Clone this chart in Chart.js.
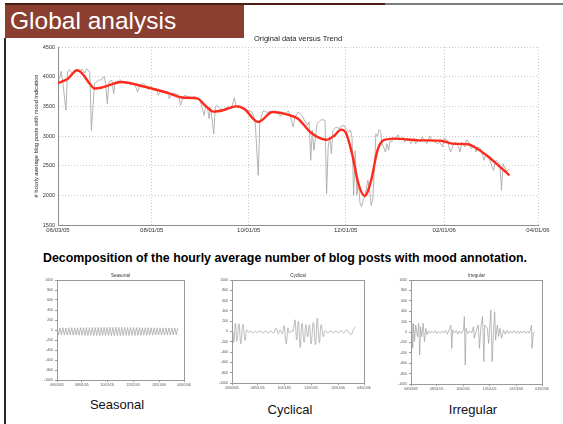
<!DOCTYPE html>
<html><head><meta charset="utf-8">
<script src="https://cdn.jsdelivr.net/npm/chart.js@4.4.1/dist/chart.umd.min.js"></script>
<style>
html,body{margin:0;padding:0;width:563px;height:424px;overflow:hidden;background:#fff;font-family:"Liberation Sans",Arial,Helvetica,sans-serif;}
.abs{position:absolute;}
canvas{position:absolute;}
#topline1{left:5px;top:3px;width:380px;height:2px;background:#4a1d14;}
#topline2{left:385px;top:3px;width:178px;height:2px;background:#7c7c7c;}
#titlebox{left:5px;top:5px;width:239px;height:33px;background:#8b3f30;}
#title{left:10px;top:7px;color:#fff;font-size:24.5px;line-height:28px;white-space:nowrap;}
#leftline{left:4px;top:38px;width:2px;height:386px;background:#2a2a2a;}
#heading{left:0;width:570px;top:251px;text-align:center;font-weight:bold;font-size:12.4px;line-height:14px;color:#000;white-space:nowrap;}
.lab{font-size:13px;line-height:15px;color:#111;text-align:center;width:120px;white-space:nowrap;}
</style>
</head>
<body>
<div id="topline1" class="abs"></div>
<div id="topline2" class="abs"></div>
<div id="titlebox" class="abs"></div>
<div id="title" class="abs">Global analysis</div>
<div id="leftline" class="abs"></div>
<div id="heading" class="abs">Decomposition of the hourly average number of blog posts with mood annotation.</div>
<div class="abs lab" style="left:57px;top:397px;">Seasonal</div>
<div class="abs lab" style="left:230px;top:402px;">Cyclical</div>
<div class="abs lab" style="left:413px;top:402px;">Irregular</div>
<canvas id="main"></canvas>
<canvas id="seasonal"></canvas>
<canvas id="cyclical"></canvas>
<canvas id="irregular"></canvas>
<script>
// ---- tick labels (days since 06/03/05) ----
const tickDays = [0, 59, 120, 181, 243, 302];
const dateLabels = ['06/03/05', '08/01/05', '10/01/05', '12/01/05', '02/01/06', '04/01/06'];

// ---- Original data (gray) ----
const rawDays = [
  0,1,2,3,5,6,7,9,11,12,
  14,15,17,18,20,21,23,24,26,27,
  29,30,31,32,34,35,36,38,39,41,
  43,44,46,47,49,50,52,54,55,57,
  58,60,62,63,65,67,69,70,72,74,
  76,77,79,80,82,84,86,87,89,90,
  92,93,94,95,96,98,99,100,102,104,
  105,107,109,111,112,114,116,118,120,122,
  124,126,127,129,130,132,133,135,137,138,
  140,141,143,145,146,148,149,151,152,154,
  155,157,158,159,160,161,162,163,165,166,
  168,169,170,171,172,173,175,177,178,180,
  181,183,184,185,186,187,188,189,190,191,
  192,193,195,196,197,198,199,200,201,202,
  203,204,206,207,208,209,210,211,212,214,
  215,217,218,220,221,222,224,225,227,228,
  229,231,232,234,235,237,239,240,242,243,
  245,246,247,249,250,252,253,254,256,257,
  259,260,262,263,264,266,268,269,271,272,
  274,275,276,278,279,280,281,282,284
];
const rawValues = [
  3994,3966,4090,3910,3433,4079,4118,4051,4107,4118,
  4096,4129,4062,4135,4079,3096,3882,3910,3949,3938,
  4006,3882,3545,3910,3938,3713,3910,3927,3949,3904,
  3882,3910,3854,3893,3826,3742,3871,3882,3854,3781,
  3826,3770,3798,3685,3770,3758,3742,3629,3725,3713,
  3685,3517,3669,3685,3657,3646,3669,3657,3601,3545,
  3348,3517,3489,3292,3489,3035,3489,3517,3461,3433,
  3461,3489,3461,3646,3489,3517,3461,3433,3433,3404,
  3264,2337,3236,3421,3421,3388,3421,3404,3421,3388,
  3331,3404,3380,3421,3348,3152,3309,3404,3388,3320,
  3264,3180,3236,2590,3096,2758,2983,3208,3264,3275,
  3264,2028,2815,2983,2702,3096,3152,3124,3163,3180,
  3130,3067,3100,2983,2000,2750,2000,2250,1870,1808,
  1916,1980,2253,2112,1831,1916,2400,3039,2990,3107,
  3080,2871,2730,2870,2758,2927,2900,2983,2930,3022,
  2930,2983,2899,2960,2927,2871,2960,2871,2927,2900,
  2983,2927,2871,2994,2927,2900,2871,2900,2815,2960,
  2927,2815,2730,2871,2900,2815,2730,2900,2815,2938,
  2871,2786,2843,2730,2815,2786,2590,2674,2646,2562,
  2421,2562,2590,2534,2084,2534,2478,2410,2432
];

// ---- Trend (red) ----
const trendDays = [0,6,12,15,20,23,28,40,50,59,70,78,88,92,98,104,112,117,126,135,146,151,159,169,174,178,181,185,189,193,197,201,205,212,227,241,248,258,262,271,277,284];
const trendValues = [3893,3960,4107,4060,3880,3800,3820,3910,3860,3800,3720,3650,3630,3530,3410,3435,3500,3461,3236,3404,3348,3292,3060,2938,3010,3107,3060,2702,2197,1989,2250,2758,2930,2955,2927,2920,2871,2860,2815,2646,2506,2337];

// ---- Seasonal component ----
const seasonalDays = [
  0,3.5,7,10.5,14,17.5,21,24.5,28,31.5,
  35,38.5,42,45.5,49,52.5,56,59.5,63,66.5,
  70,73.5,77,80.5,84,87.5,91,94.5,98,101.5,
  105,108.5,112,115.5,119,122.5,126,129.5,133,136.5,
  140,143.5,147,150.5,154,157.5,161,164.5,168,171.5,
  175,178.5,182,185.5,189,192.5,196,199.5,203,206.5,
  210,213.5,217,220.5,224,227.5,231,234.5,238,241.5,
  245,248.5,252,255.5,259,262.5,266,269.5,273,276.5,
  280,283.5,287
];
const seasonalValues = [
  40,-95,42,-100,45,-98,40,-102,43,-100,
  46,-104,42,-100,44,-103,47,-105,45,-106,
  48,-108,46,-105,50,-110,48,-108,52,-112,
  50,-110,53,-113,51,-112,54,-115,52,-113,
  55,-114,53,-112,52,-113,50,-110,52,-112,
  49,-108,50,-110,48,-106,47,-107,45,-104,
  46,-105,44,-102,45,-103,43,-100,44,-101,
  42,-98,43,-100,41,-97,42,-99,40,-96,
  41,-97,40
];

// ---- Cyclical component ----
const cycDays = [0,2,4,8,11,16,20,25,30,34,39,43,48,53,58,65,71,77,83,89,95,101,106,110,115,119,124,128,131,136,140,144,148,152,156,160,165,169,173,177,181,186,191,195,200,204,209,213,219,225,231,238,244,250,256,262,268,273,277,282];
const cycValues = [0,0,-210,160,-190,150,-240,140,-175,30,-20,10,-30,5,-20,10,-30,10,-25,5,-30,65,-45,30,-45,110,-240,65,-30,20,0,225,-160,195,-310,160,-210,130,-100,130,-240,175,-260,260,-225,130,-100,20,-25,15,-20,5,-20,20,-30,30,-30,-60,30,85];

// ---- Irregular component ----
const irrDays = [0,2,4,6,8,11,15,18,20,22,25,28,31,34,37,40,44,48,52,56,60,64,68,72,76,80,84,88,92,94,96,100,104,108,112,116,121,123,125,127,131,136,140,144,146,150,155,158,161,165,168,170,176,179,184,187,190,193,195,199,202,205,209,213,217,221,225,229,233,237,241,245,249,253,257,261,265,269,273,278,279,282,285];
const irrValues = [0,167,-314,160,-186,135,-90,167,-442,100,-90,167,-186,70,-55,20,-25,15,-20,25,-30,10,-25,20,-15,30,-40,40,135,-314,40,-20,30,-40,20,-30,40,295,-635,70,-30,20,-15,100,-120,20,135,-314,100,295,-570,135,70,-220,423,-570,-25,391,-155,135,-90,70,-120,40,-40,30,-30,20,-20,25,-25,20,-30,15,-20,20,-25,10,-20,135,-314,-10,0];

const FONT = '"Liberation Sans", Arial, Helvetica, sans-serif';
const toPts = (xs, ys) => xs.map((x, i) => ({ x: x, y: ys[i] }));

const plotTitle = {
  id: 'plotTitle',
  afterDraw(chart, args, o) {
    if (!o || !o.text) return;
    const ca = chart.chartArea, ctx = chart.ctx;
    ctx.save();
    ctx.font = o.size + 'px ' + FONT;
    ctx.fillStyle = o.color || '#111';
    ctx.textAlign = 'center';
    ctx.textBaseline = 'middle';
    ctx.fillText(o.text, (ca.left + ca.right) / 2, ca.top - o.offset);
    ctx.restore();
  }
};
const frame = {
  id: 'frame',
  afterDraw(chart, args, o) {
    if (!o || !o.show) return;
    const ca = chart.chartArea, ctx = chart.ctx;
    ctx.save();
    ctx.strokeStyle = o.color;
    ctx.lineWidth = 1;
    ctx.strokeRect(Math.round(ca.left) + 0.5, Math.round(ca.top) + 0.5, Math.round(ca.right - ca.left), Math.round(ca.bottom - ca.top));
    ctx.restore();
  }
};
Chart.register(plotTitle, frame);

function place(id, left, top, w, h) {
  const c = document.getElementById(id);
  c.width = w; c.height = h;
  c.style.left = left + 'px'; c.style.top = top + 'px';
  c.style.width = w + 'px'; c.style.height = h + 'px';
  return c;
}

// ---- main chart ----
(function () {
  const rect = { l: 58, t: 47, r: 538, b: 225 };
  const yW = 30, padL = 5, padT = 15, padR = 20, xH = 12, padB = 2;
  const left = rect.l - yW - padL, top = rect.t - padT;
  const w = rect.r - left + padR, h = rect.b - top + xH + padB;
  const c = place('main', left, top, w, h);
  new Chart(c, {
    type: 'line',
    data: {
      datasets: [
        { label: 'Trend', data: toPts(trendDays, trendValues), borderColor: '#ff2a1c', borderWidth: 2.4, pointRadius: 0, cubicInterpolationMode: 'monotone', fill: false },
        { label: 'Original data', data: toPts(rawDays, rawValues), borderColor: '#ababab', borderWidth: 0.9, pointRadius: 0, tension: 0, fill: false }
      ]
    },
    options: {
      responsive: false, animation: false, devicePixelRatio: 1,
      layout: { padding: { left: padL, top: padT, right: padR, bottom: padB } },
      plugins: {
        legend: { display: false }, tooltip: { enabled: false },
        plotTitle: { text: 'Original data versus Trend', size: 7.5, offset: 7.7, color: '#222' }
      },
      scales: {
        x: {
          type: 'linear', min: 0, max: 302,
          afterBuildTicks: s => { s.ticks = tickDays.map(v => ({ value: v })); },
          afterFit: s => { s.height = xH; },
          ticks: { callback: (v, i) => dateLabels[i], font: { family: FONT, size: 6 }, color: '#333', padding: 2, maxRotation: 0, autoSkip: false },
          grid: { color: '#c9c9c9', lineWidth: 1, drawTicks: false },
          border: { display: true, color: '#8c8c8c', width: 1, dash: [1, 2] }
        },
        y: {
          min: 1500, max: 4500,
          afterFit: s => { s.width = yW; },
          ticks: { stepSize: 500, callback: v => String(v), font: { family: FONT, size: 5.5 }, color: '#333', padding: 3 },
          grid: { color: '#c9c9c9', lineWidth: 1, drawTicks: false },
          border: { display: true, color: '#8c8c8c', width: 1, dash: [1, 2] },
          title: { display: true, text: '# hourly average blog posts with mood indication', font: { family: FONT, size: 5.7 }, color: '#222', padding: { top: 5.5, bottom: 0 } }
        }
      }
    }
  });
})();

// ---- small decomposition charts ----
function smallChart(id, rect, days, values, title, tension) {
  const yW = 22, padL = 2, padT = 10, padR = 9, xH = 7, padB = 2;
  const left = rect.l - yW - padL, top = rect.t - padT;
  const w = rect.r - left + padR, h = rect.b - top + xH + padB;
  const c = place(id, left, top, w, h);
  new Chart(c, {
    type: 'line',
    data: { datasets: [{ label: title, data: toPts(days, values), borderColor: '#9d9d9d', borderWidth: 0.7, pointRadius: 0, tension: tension, fill: false }] },
    options: {
      responsive: false, animation: false, devicePixelRatio: 1,
      layout: { padding: { left: padL, top: padT, right: padR, bottom: padB } },
      plugins: {
        legend: { display: false }, tooltip: { enabled: false },
        plotTitle: { text: title, size: 4.5, offset: 4, color: '#333' },
        frame: { show: true, color: '#9a9a9a' }
      },
      scales: {
        x: {
          type: 'linear', min: 0, max: 302,
          afterBuildTicks: s => { s.ticks = tickDays.map(v => ({ value: v })); },
          afterFit: s => { s.height = xH; },
          ticks: { callback: (v, i) => dateLabels[i], font: { family: FONT, size: 3.5 }, color: '#555', padding: 1, maxRotation: 0, autoSkip: false },
          grid: { display: true, drawOnChartArea: false, color: '#999', tickLength: 2 },
          border: { display: false }
        },
        y: {
          min: -1000, max: 1000,
          afterFit: s => { s.width = yW; },
          ticks: { stepSize: 200, callback: v => String(v), font: { family: FONT, size: 3.5 }, color: '#555', padding: 2 },
          grid: { display: true, drawOnChartArea: false, color: '#999', tickLength: 2 },
          border: { display: false }
        }
      }
    }
  });
}
smallChart('seasonal', { l: 57, t: 280, r: 184, b: 380 }, seasonalDays, seasonalValues, 'Seasonal', 0);
smallChart('cyclical', { l: 232, t: 280, r: 364, b: 383 }, cycDays, cycValues, 'Cyclical', 0.4);
smallChart('irregular', { l: 411, t: 280, r: 542, b: 384 }, irrDays, irrValues, 'Irregular', 0);
</script>
</body></html>
